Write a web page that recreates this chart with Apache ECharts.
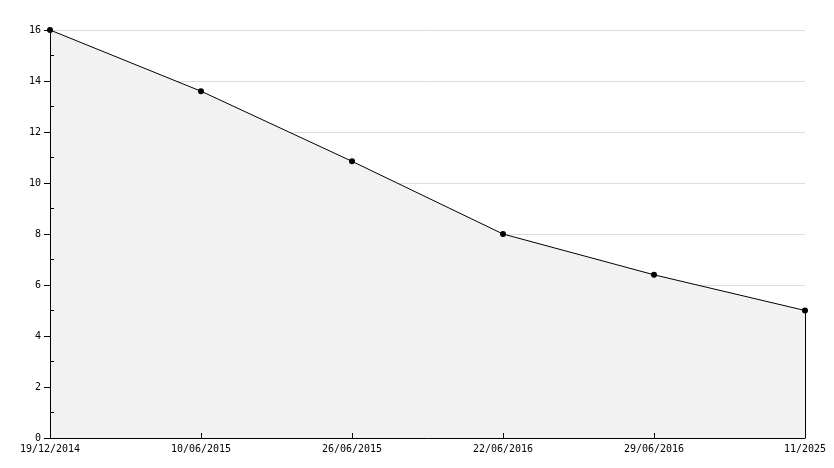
<!DOCTYPE html>
<html>
<head>
<meta charset="utf-8">
<script src="https://cdn.jsdelivr.net/npm/echarts@6/dist/echarts.min.js"></script>
<style>html,body{margin:0;padding:0;background:#fff}#c{width:834px;height:468px}</style>
</head>
<body>
<div id="c"></div>
<script>
const categories = ['19/12/2014', '10/06/2015', '26/06/2015', '22/06/2016', '29/06/2016', '11/2025'];
const values = [16, 13.6, 10.85, 8.0, 6.4, 5.0];
const yTicks = [0, 2, 4, 6, 8, 10, 12, 14, 16];
const yMinorTicks = [1, 3, 5, 7, 9, 11, 13, 15];

const font = 'DejaVu Sans Mono';
const last = categories.length - 1;
const chart = echarts.init(document.getElementById('c'), null, {renderer: 'canvas'});
chart.setOption({
  backgroundColor: '#ffffff',
  animation: false,
  grid: {left: 50, right: 29, top: 30, bottom: 30, containLabel: false},
  xAxis: {
    type: 'category', data: categories, boundaryGap: false, z: 10,
    axisLine: {lineStyle: {color: '#000', width: 1}},
    axisTick: {inside: true, length: 5, lineStyle: {color: '#000'}},
    axisLabel: {color: '#000', fontFamily: font, fontSize: 10, margin: 6, interval: 0},
    splitLine: {show: false}
  },
  yAxis: [{
    type: 'value', min: yTicks[0], max: yTicks[yTicks.length - 1], interval: 2, z: 0,
    axisLine: {show: true, lineStyle: {color: '#000', width: 1}},
    axisTick: {show: true, length: 6, lineStyle: {color: '#000'}},
    axisLabel: {color: '#000', fontFamily: font, fontSize: 10, margin: 9},
    splitLine: {show: true, lineStyle: {color: '#dddddd', width: 1}}
  }, {
    type: 'value', position: 'left', min: yTicks[0], max: yTicks[yTicks.length - 1], interval: 1, z: 10,
    axisLine: {show: true, lineStyle: {color: '#000', width: 1}},
    axisTick: {show: true, inside: true, length: 4, customValues: yMinorTicks, lineStyle: {color: '#000'}},
    axisLabel: {show: false},
    splitLine: {show: false}
  }],
  series: [{
    type: 'line', data: values, yAxisIndex: 0,
    symbol: 'circle', symbolSize: 6,
    itemStyle: {color: '#000'},
    lineStyle: {color: '#000', width: 1},
    areaStyle: {color: '#f2f2f2', opacity: 1},
    z: 3,
    markLine: {
      silent: true, symbol: 'none', label: {show: false},
      lineStyle: {color: '#000', width: 1, type: 'solid'},
      data: [[{coord: [categories[last], 0]}, {coord: [categories[last], values[last]]}]]
    }
  }]
});
</script>
</body>
</html>
